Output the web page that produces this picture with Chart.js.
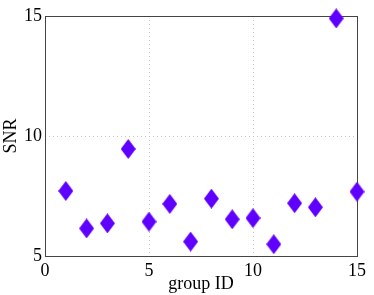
<!DOCTYPE html>
<html>
<head>
<meta charset="utf-8">
<script src="https://cdn.jsdelivr.net/npm/chart.js@4"></script>
<style>
  html, body { margin: 0; padding: 0; background: #fff; }
  #wrap { width: 374px; height: 295px; }
</style>
</head>
<body>
<div id="wrap"><canvas id="chart"></canvas></div>
<script>
'use strict';

// data
var groupIds = [1, 2, 3, 4, 5, 6, 7, 8, 9, 10, 11, 12, 13, 14, 15];
var snrValues = [7.71, 6.15, 6.36, 9.46, 6.43, 7.17, 5.6, 7.39, 6.53, 6.58, 5.49, 7.2, 7.03, 14.9, 7.68];
var xTicks = [0, 5, 10, 15];
var yTicks = [5, 10, 15];

var markerColor = '#5f00ff',
    fontFamily = '"Liberation Serif", "DejaVu Serif", serif',

    // tall diamond marker, like the matlab 'd' marker
    makeDiamond = function (w, h) {
        var c = document.createElement('canvas'),
            ctx = c.getContext('2d');

        c.width = w;
        c.height = h;
        ctx.fillStyle = markerColor;
        ctx.beginPath();
        ctx.moveTo(w / 2, 0);
        ctx.lineTo(w, h / 2);
        ctx.lineTo(w / 2, h);
        ctx.lineTo(0, h / 2);
        ctx.closePath();
        ctx.fill();

        return c;
    },

    boxPlugin = {
        id: 'axesBox',
        beforeDatasetsDraw: function (chart) {
            var a = chart.chartArea,
                ctx = chart.ctx;

            ctx.save();
            ctx.strokeStyle = '#444';
            ctx.lineWidth = 1;
            ctx.strokeRect(Math.round(a.left) + 0.5, Math.round(a.top) + 0.5,
                Math.round(a.right - a.left), Math.round(a.bottom - a.top));
            ctx.restore();
        }
    },

    points = groupIds.map(function (id, i) {
        return { x: id, y: snrValues[i] };
    }),

    gridStyle = {
        color: function (ctx) {
            var v = ctx.tick && ctx.tick.value;
            return (v === ctx.scale.min || v === ctx.scale.max) ? 'rgba(0,0,0,0)' : '#c4c4c4';
        },
        lineWidth: 1,
        drawTicks: false
    };

new Chart(document.getElementById('chart'), {
    type: 'scatter',
    data: {
        datasets: [{
            data: points,
            pointStyle: makeDiamond(15, 20),
            pointRadius: 10,
            pointHoverRadius: 10,
            backgroundColor: markerColor,
            borderColor: markerColor,
            clip: false
        }]
    },
    options: {
        responsive: true,
        maintainAspectRatio: false,
        animation: false,
        events: [],
        layout: { padding: { left: 0, right: 17, top: 16, bottom: 0 } },
        plugins: {
            legend: { display: false },
            tooltip: { enabled: false }
        },
        scales: {
            x: {
                type: 'linear',
                min: 0,
                max: 15,
                afterBuildTicks: function (s) {
                    s.ticks = xTicks.map(function (v) { return { value: v }; });
                },
                afterFit: function (s) { s.height = 39; },
                grid: gridStyle,
                border: { display: false, dash: [1, 3] },
                ticks: {
                    padding: 4,
                    color: '#000',
                    font: { family: fontFamily, size: 18 },
                    maxRotation: 0
                },
                title: {
                    display: true,
                    text: 'group ID',
                    color: '#000',
                    font: { family: fontFamily, size: 18 },
                    padding: { top: 0, bottom: 0 }
                }
            },
            y: {
                type: 'linear',
                min: 5,
                max: 15,
                afterBuildTicks: function (s) {
                    s.ticks = yTicks.map(function (v) { return { value: v }; });
                },
                afterFit: function (s) { s.width = 45; },
                grid: gridStyle,
                border: { display: false, dash: [1, 3] },
                ticks: {
                    padding: 3,
                    color: '#000',
                    font: { family: fontFamily, size: 18 }
                },
                title: {
                    display: true,
                    text: 'SNR',
                    color: '#000',
                    font: { family: fontFamily, size: 18 },
                    padding: { top: 0, bottom: 0 }
                }
            }
        }
    },
    plugins: [boxPlugin]
});
</script>
</body>
</html>
